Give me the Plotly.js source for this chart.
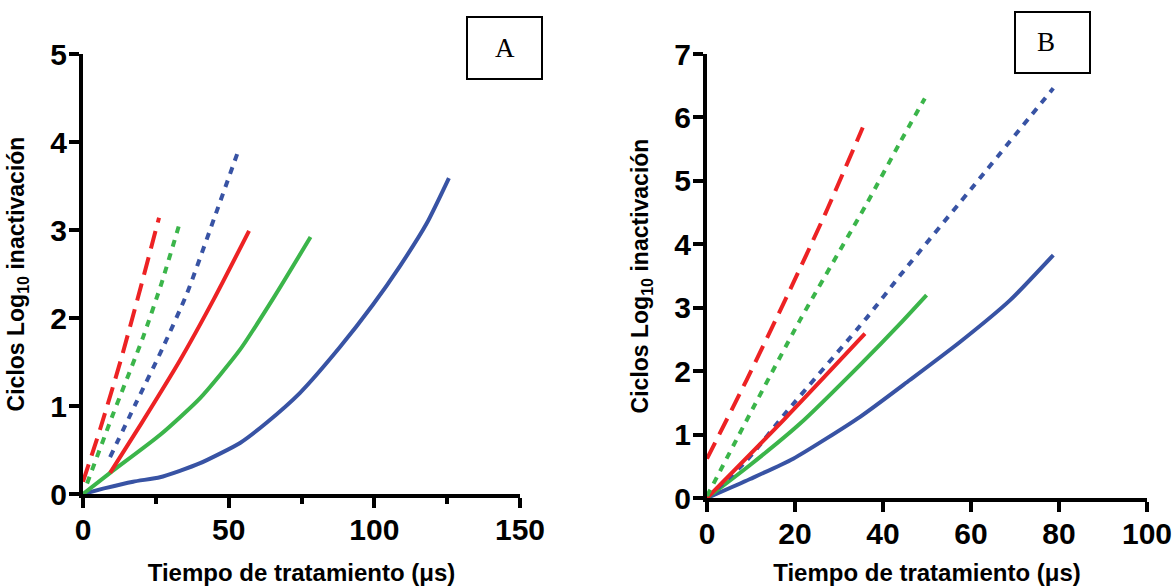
<!DOCTYPE html>
<html>
<head>
<meta charset="utf-8">
<script src="https://cdn.plot.ly/plotly-3.0.1.min.js"></script>
<style>html,body{margin:0;padding:0;background:#fff}#chart{width:1175px;height:586px}</style>
</head>
<body>
<div id="chart"></div>
<script>
// ---------- Panel A data (time in µs, log10 inactivation cycles) ----------
const A_redDash_t   = [0, 6, 12.7, 19, 26.1];
const A_redDash_y   = [0.14, 0.75, 1.49, 2.25, 3.14];
const A_greenDot_t  = [1.4, 10, 20.6, 27, 33.3];
const A_greenDot_y  = [0.12, 0.88, 1.78, 2.40, 3.09];
const A_blueDot_t   = [9.3, 18, 27.5, 35.7, 45, 53.2];
const A_blueDot_y   = [0.42, 1.02, 1.67, 2.28, 3.13, 3.89];
const A_redSolid_t  = [9.3, 20, 33.3, 45, 57];
const A_redSolid_y  = [0.24, 0.80, 1.52, 2.22, 2.99];
const A_greenSolid_t = [0, 9.3, 26.4, 40.2, 53.9, 66, 78.1];
const A_greenSolid_y = [0, 0.24, 0.67, 1.09, 1.64, 2.26, 2.92];
const A_blueSolid_t = [0, 8, 17.2, 26.4, 33, 40.2, 53.9, 63, 74.5, 88.2, 99.5, 108.8, 117.9, 125.6];
const A_blueSolid_y = [0, 0.07, 0.14, 0.19, 0.26, 0.35, 0.58, 0.81, 1.15, 1.67, 2.15, 2.59, 3.07, 3.59];

// ---------- Panel B data ----------
const B_redDash_t   = [0, 9, 18.1, 27, 35.4];
const B_redDash_y   = [0.62, 1.86, 3.17, 4.50, 5.84];
const B_greenDot_t  = [0, 9.8, 21.1, 36.3, 43.9, 49.5];
const B_greenDot_y  = [0.03, 1.33, 2.80, 4.64, 5.61, 6.30];
const B_blueDot_t   = [0, 9, 18.1, 36.3, 43.9, 62, 78.7];
const B_blueDot_y   = [0, 0.59, 1.36, 2.84, 3.51, 5.04, 6.46];
const B_redSolid_t  = [0, 18.1, 35.9];
const B_redSolid_y  = [0, 1.28, 2.59];
const B_greenSolid_t = [0, 9.8, 21.1, 34.8, 43.9, 49.9];
const B_greenSolid_y = [0, 0.52, 1.17, 2.10, 2.75, 3.20];
const B_blueSolid_t = [0, 9.8, 19.6, 34.8, 46.1, 57.5, 68.9, 78.7];
const B_blueSolid_y = [0, 0.30, 0.62, 1.28, 1.86, 2.46, 3.12, 3.83];

// ---------- Labels ----------
const xTitle = 'Tiempo de tratamiento (\u03bcs)';
const yTitle = 'Ciclos Log<sub>10</sub> inactivaci\u00f3n';
const panelLabels = ['A', 'B'];

const RED = '#ed2224', GREEN = '#3bb54a', BLUE = '#3853a4';
const W = 1175, H = 586;
const fx = p => p / W;
const fy = p => 1 - p / H;

function tr(t, y, color, dash, xa, ya) {
  return {
    x: t, y: y, type: 'scatter', mode: 'lines', xaxis: xa, yaxis: ya,
    line: {color: color, width: 4, dash: dash, shape: 'spline', smoothing: 0.6},
    showlegend: false, hoverinfo: 'skip'
  };
}

const LONG = '18px,9px', DOT = '7px,7px';
const data = [
  tr(A_blueSolid_t, A_blueSolid_y, BLUE, 'solid', 'x', 'y'),
  tr(A_greenSolid_t, A_greenSolid_y, GREEN, 'solid', 'x', 'y'),
  tr(A_redSolid_t, A_redSolid_y, RED, 'solid', 'x', 'y'),
  tr(A_blueDot_t, A_blueDot_y, BLUE, DOT, 'x', 'y'),
  tr(A_greenDot_t, A_greenDot_y, GREEN, DOT, 'x', 'y'),
  tr(A_redDash_t, A_redDash_y, RED, LONG, 'x', 'y'),
  tr(B_blueSolid_t, B_blueSolid_y, BLUE, 'solid', 'x2', 'y2'),
  tr(B_greenSolid_t, B_greenSolid_y, GREEN, 'solid', 'x2', 'y2'),
  tr(B_blueDot_t, B_blueDot_y, BLUE, DOT, 'x2', 'y2'),
  tr(B_redSolid_t, B_redSolid_y, RED, 'solid', 'x2', 'y2'),
  tr(B_greenDot_t, B_greenDot_y, GREEN, DOT, 'x2', 'y2'),
  tr(B_redDash_t, B_redDash_y, RED, LONG, 'x2', 'y2')
];

const FAM = '"Liberation Sans", Arial, Helvetica, sans-serif';
function axis(domain, range, dtick, anchor, title, tsize, standoff, extra) {
  return Object.assign({
    domain: domain, range: range, dtick: dtick, tick0: 0, anchor: anchor,
    showgrid: false, zeroline: false, showline: true, linewidth: 4, linecolor: '#000',
    ticks: 'outside', ticklen: 10, tickwidth: 4, tickcolor: '#000',
    ticklabelstandoff: -4,
    tickfont: {family: FAM, size: 30, weight: 'bold', color: '#000'},
    title: {text: title, standoff: standoff, font: {family: FAM, size: tsize, weight: 'bold', color: '#000'}},
    automargin: false, fixedrange: true
  }, extra || {});
}

const layout = {
  width: W, height: H,
  margin: {l: 0, r: 0, t: 0, b: 0},
  paper_bgcolor: '#fff', plot_bgcolor: '#fff',
  showlegend: false,
  xaxis: axis([fx(83), fx(520)], [0, 150], 50, 'y', xTitle, 24, 20,
    {minor: {dtick: 25, ticks: 'outside', ticklen: 6, tickwidth: 4, tickcolor: '#000'}}),
  yaxis: axis([fy(494), fy(54)], [0, 5], 1, 'x', yTitle, 23, 20),
  xaxis2: axis([fx(707), fx(1147)], [0, 100], 20, 'y2', xTitle, 24, 20),
  yaxis2: axis([fy(498), fy(54)], [0, 7], 1, 'x2', yTitle, 23, 20),
  shapes: [
    {type: 'rect', xref: 'paper', yref: 'paper', x0: fx(467), x1: fx(542), y0: fy(79), y1: fy(17),
     line: {color: '#000', width: 2}, fillcolor: 'rgba(0,0,0,0)'},
    {type: 'rect', xref: 'paper', yref: 'paper', x0: fx(1015), x1: fx(1090), y0: fy(73), y1: fy(12),
     line: {color: '#000', width: 2}, fillcolor: 'rgba(0,0,0,0)'}
  ],
  annotations: [
    {text: panelLabels[0], xref: 'paper', yref: 'paper', x: fx(504.5), y: fy(48), showarrow: false,
     xanchor: 'center', yanchor: 'middle', font: {family: '"Liberation Serif", "Times New Roman", serif', size: 27, color: '#000'}},
    {text: panelLabels[1], xref: 'paper', yref: 'paper', x: fx(1046), y: fy(42), showarrow: false,
     xanchor: 'center', yanchor: 'middle', font: {family: '"Liberation Serif", "Times New Roman", serif', size: 27, color: '#000'}}
  ]
};

Plotly.newPlot('chart', data, layout, {staticPlot: true, displayModeBar: false});
</script>
</body>
</html>
